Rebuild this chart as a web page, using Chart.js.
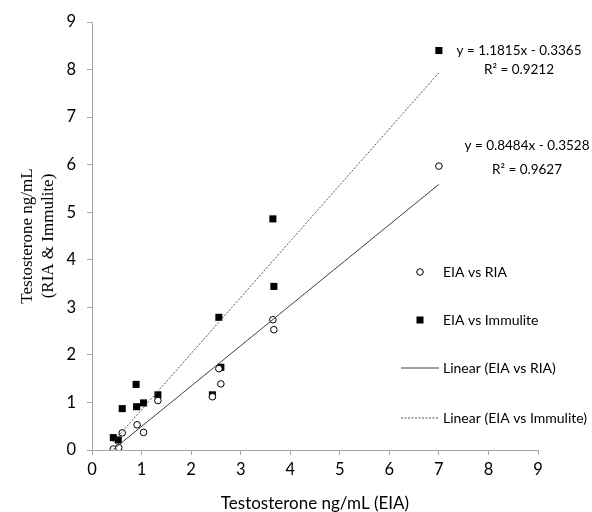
<!DOCTYPE html>
<html>
<head>
<meta charset="utf-8">
<script src="https://cdn.jsdelivr.net/npm/chart.js@4"></script>
<style>
  html, body { margin: 0; padding: 0; background: #fff; }
  #wrap { width: 592px; height: 512px; }
</style>
</head>
<body>
<div id="wrap"><canvas id="myChart" width="592" height="512"></canvas></div>
<script>
// EIA vs RIA (open circles)
const eiaRia = [0.43, 0.54, 0.61, 0.91, 1.04, 1.33, 2.43, 2.56, 2.60, 3.65, 3.67, 7.0];
const ria = [0.02, 0.05, 0.36, 0.53, 0.37, 1.04, 1.12, 1.71, 1.39, 2.74, 2.53, 5.97];
// EIA vs Immulite (filled squares)
const eiaImm = [0.43, 0.53, 0.61, 0.89, 0.90, 1.04, 1.33, 2.43, 2.56, 2.60, 3.65, 3.67, 7.0];
const immulite = [0.26, 0.21, 0.87, 1.38, 0.91, 0.99, 1.16, 1.16, 2.79, 1.74, 4.86, 3.44, 8.40];

// trendline coefficients as printed
const riaFit = { slope: 0.8484, intercept: -0.3528, r2: '0.9627' };
const immFit = { slope: 1.1815, intercept: -0.3365, r2: '0.9212' };

const axisTicks = [0, 1, 2, 3, 4, 5, 6, 7, 8, 9];

const toPoints = (xs, ys) => xs.map((x, i) => ({ x: x, y: ys[i] }));
const fitLine = (xs, fit) => {
    const lo = Math.min(...xs), hi = Math.max(...xs);
    return [lo, hi].map(x => ({ x: x, y: fit.slope * x + fit.intercept }));
};
const fmt = fit => 'y = ' + fit.slope.toFixed(4) + 'x - ' + Math.abs(fit.intercept).toFixed(4);

const axisGray = '#a6a6a6';
const sans = "Lato, 'Open Sans', sans-serif";

// legend + trendline labels drawn on top like the spreadsheet does
const overlay = {
    id: 'overlay',
    afterDatasetsDraw(chart) {
        const c = chart.ctx;
        c.save();
        c.fillStyle = '#000';
        c.font = '13.5px ' + sans;
        c.textAlign = 'center';
        c.textBaseline = 'middle';
        c.fillText(fmt(immFit), 519, 51);
        c.fillText('R\u00b2 = ' + immFit.r2, 519, 70);
        c.fillText(fmt(riaFit), 527, 146);
        c.fillText('R\u00b2 = ' + riaFit.r2, 527, 170);

        const items = [
            { label: 'EIA vs RIA', kind: 'circle', y: 272 },
            { label: 'EIA vs Immulite', kind: 'rect', y: 320 },
            { label: 'Linear (EIA vs RIA)', kind: 'solid', y: 368 },
            { label: 'Linear (EIA vs Immulite)', kind: 'dash', y: 418 }
        ];
        c.textAlign = 'left';
        c.font = '14px ' + sans;
        items.forEach(it => {
            c.lineWidth = 1;
            c.strokeStyle = '#000';
            if (it.kind === 'circle') {
                c.fillStyle = '#fff';
                c.beginPath();
                c.arc(420, it.y, 3.3, 0, Math.PI * 2);
                c.fill();
                c.stroke();
            } else if (it.kind === 'rect') {
                c.fillStyle = '#000';
                c.fillRect(416.5, it.y - 3.5, 7, 7);
            } else {
                c.strokeStyle = it.kind === 'solid' ? '#404040' : '#555';
                c.setLineDash(it.kind === 'dash' ? [2, 1.5] : []);
                c.beginPath();
                c.moveTo(401, it.y);
                c.lineTo(439, it.y);
                c.stroke();
                c.setLineDash([]);
            }
            c.fillStyle = '#000';
            c.fillText(it.label, 443, it.y);
        });
        c.restore();
    }
};

const ctx = document.getElementById('myChart');

new Chart(ctx, {
    type: 'scatter',
    data: {
        datasets: [{
            label: 'Linear (EIA vs RIA)',
            type: 'line',
            data: fitLine(eiaRia, riaFit),
            borderColor: '#404040',
            borderWidth: 1,
            pointRadius: 0,
            fill: false
        }, {
            label: 'Linear (EIA vs Immulite)',
            type: 'line',
            data: fitLine(eiaImm, immFit),
            borderColor: '#555',
            borderWidth: 1,
            borderDash: [2, 1.5],
            pointRadius: 0,
            fill: false
        }, {
            label: 'EIA vs RIA',
            data: toPoints(eiaRia, ria),
            pointStyle: 'circle',
            pointRadius: 3.3,
            backgroundColor: '#fff',
            borderColor: '#000',
            borderWidth: 1
        }, {
            label: 'EIA vs Immulite',
            data: toPoints(eiaImm, immulite),
            pointStyle: 'rect',
            pointRadius: 5,
            backgroundColor: '#000',
            borderColor: '#000',
            borderWidth: 0
        }]
    },
    options: {
        responsive: false,
        animation: false,
        layout: {
            padding: { top: 22, right: 54, left: 0, bottom: 0 }
        },
        scales: {
            x: {
                type: 'linear',
                min: 0,
                max: 9,
                afterFit: s => { s.height = 62; },
                afterBuildTicks: s => { s.ticks = axisTicks.map(v => ({ value: v })); },
                border: { color: axisGray, width: 1 },
                grid: {
                    drawOnChartArea: false,
                    drawTicks: true,
                    tickLength: 5,
                    color: axisGray
                },
                ticks: {
                    color: '#000',
                    padding: 5,
                    font: { size: 16.5, family: sans }
                },
                title: {
                    display: true,
                    text: 'Testosterone ng/mL (EIA)',
                    color: '#000',
                    padding: { top: 0, bottom: 0 },
                    font: { size: 17, family: sans, lineHeight: 1.0 }
                }
            },
            y: {
                type: 'linear',
                min: 0,
                max: 9,
                afterFit: s => { s.width = 92; },
                afterBuildTicks: s => { s.ticks = axisTicks.map(v => ({ value: v })); },
                border: { color: axisGray, width: 1 },
                grid: {
                    drawOnChartArea: false,
                    drawTicks: true,
                    tickLength: 5,
                    color: axisGray
                },
                ticks: {
                    color: '#000',
                    padding: 11,
                    font: { size: 16.5, family: sans }
                },
                title: {
                    display: true,
                    text: ['Testosterone ng/mL', '(RIA & Immulite)'],
                    color: '#000',
                    padding: { top: 17, bottom: 0 },
                    font: { size: 17, family: "'Liberation Serif', serif", lineHeight: 1.25 }
                }
            }
        },
        plugins: {
            legend: { display: false },
            tooltip: { enabled: false }
        }
    },
    plugins: [overlay]
});
</script>
</body>
</html>
